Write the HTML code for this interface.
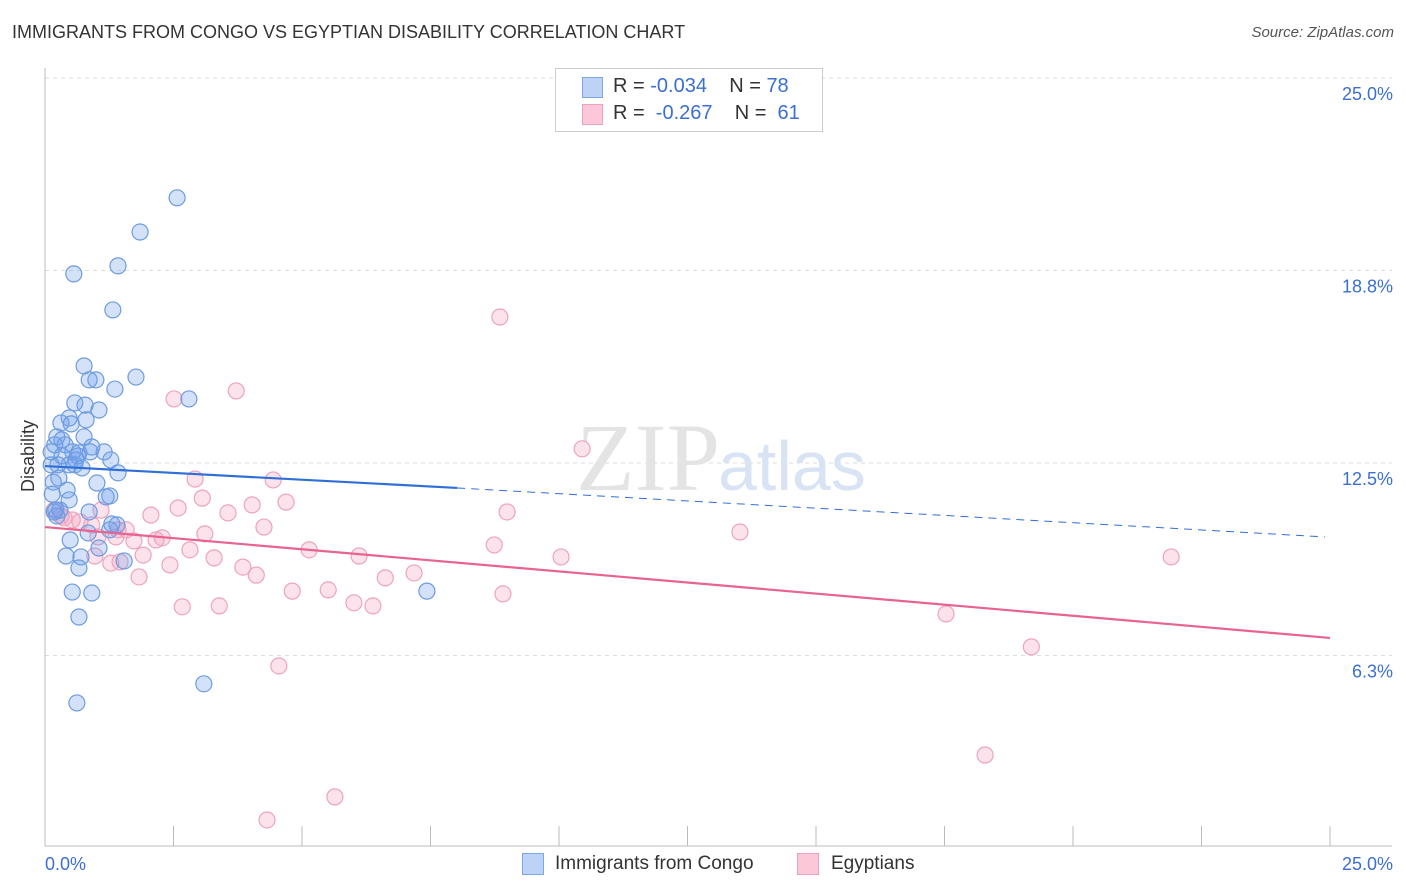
<!DOCTYPE html>
<html><head><meta charset="utf-8"><style>
body{margin:0;background:#fff;font-family:"Liberation Sans",sans-serif;}
#wrap{position:relative;width:1406px;height:892px;overflow:hidden}
.t{position:absolute;white-space:nowrap}
</style></head><body><div id="wrap">
<div class="t" style="left:12px;top:22px;font-size:18px;color:#333">IMMIGRANTS FROM CONGO VS EGYPTIAN DISABILITY CORRELATION CHART</div>
<div class="t" style="right:12px;top:24px;font-size:15px;color:#555;font-style:italic">Source: ZipAtlas.com</div>
<svg id="svg" width="1406" height="892" style="position:absolute;left:0;top:0"></svg>
</div>
<script>
const blueX=[2.57,1.85,1.42,0.56,1.32,0.76,1.77,0.86,0.99,1.36,2.80,0.58,0.78,1.05,0.47,0.31,0.80,0.51,0.23,0.33,0.76,0.19,0.39,0.91,0.12,0.54,0.66,0.88,1.15,0.33,0.64,0.60,0.12,0.25,0.47,0.58,1.28,0.72,1.42,0.27,0.16,1.01,0.43,1.26,1.19,0.47,0.14,0.21,0.23,0.86,1.40,0.84,0.49,1.26,1.05,0.41,0.70,1.54,0.66,0.53,0.91,0.66,7.43,3.09,0.62,0.18,0.29,1.30];
const blueY=[21.11,20.00,18.90,18.64,17.47,15.65,15.29,15.20,15.20,14.90,14.58,14.45,14.38,14.22,13.96,13.80,13.90,13.77,13.35,13.25,13.35,13.09,13.09,13.02,12.86,12.86,12.83,12.86,12.86,12.73,12.73,12.60,12.44,12.44,12.44,12.44,12.60,12.34,12.18,12.01,11.88,11.85,11.62,11.43,11.40,11.30,11.49,10.97,10.78,10.91,10.49,10.23,10.00,10.33,9.74,9.48,9.45,9.32,9.09,8.31,8.28,7.50,8.34,5.33,4.71,10.91,10.97,10.52];
const pinkX=[8.85,3.72,2.51,10.45,2.92,4.44,3.06,4.69,4.03,8.99,2.06,2.59,3.56,0.31,1.09,0.53,0.91,1.42,1.58,4.26,3.11,2.28,1.03,1.73,2.16,1.38,13.52,5.14,2.82,8.74,6.11,3.29,1.91,10.04,21.91,0.97,3.85,2.43,1.28,4.11,7.18,6.62,1.83,4.81,5.51,8.91,2.67,3.39,6.01,6.38,17.53,19.19,4.55,18.29,5.64,4.32,0.18,0.37,0.68,1.46];
const pinkY=[17.24,14.84,14.58,12.96,11.98,11.95,11.36,11.23,11.14,10.91,10.81,11.04,10.88,10.78,10.97,10.65,10.49,10.33,10.33,10.42,10.20,10.07,10.10,9.97,10.00,10.10,10.26,9.68,9.68,9.84,9.48,9.42,9.51,9.45,9.45,9.48,9.12,9.19,9.25,8.86,8.93,8.77,8.80,8.34,8.38,8.25,7.83,7.86,7.96,7.86,7.60,6.53,5.91,3.02,1.66,0.91,10.97,10.72,10.59,9.29];
const blueTrend=[12.40,11.69,8.02,10.10,24.9];
const pinkTrend=[10.42,6.82];
const yTicks=[25.0,18.8,12.5,6.3];
const yTickVals=[25,18.75,12.5,6.25];
const xTickVals=[0,2.5,5,7.5,10,12.5,15,17.5,20,22.5,25];

const X=v=>45+v/25*1285, Y=v=>848-v/25*770;
const svg=document.getElementById('svg');const NS='http://www.w3.org/2000/svg';
function mk(tag,at,name){const e=document.createElementNS(NS,tag);for(const k in at)e.setAttribute(k,at[k]);


svg.appendChild(e);return e;}
yTickVals.forEach((v,i)=>{mk('line',{x1:45,x2:1392,y1:Y(v),y2:Y(v),stroke:'#ddd','stroke-dasharray':'4,4'},'gridline');
const t=mk('text',{x:1393,y:Y(v)+22,'text-anchor':'end','font-size':18,fill:'#3b6fd0','font-family':'Liberation Sans'},'y-tick-label');t.textContent=yTicks[i].toFixed(1)+'%';});
mk('line',{x1:45,x2:45,y1:68,y2:846,stroke:'#bbb'},'y-axis');
mk('line',{x1:45,x2:1392,y1:846,y2:846,stroke:'#bbb'},'x-axis');
xTickVals.forEach(v=>mk('line',{x1:X(v),x2:X(v),y1:826,y2:846,stroke:'#bbb'},'x-tick'));
let t=mk('text',{x:45,y:870,'font-size':18,fill:'#3b6fd0'},'x-min-label');t.textContent='0.0%';
t=mk('text',{x:1393,y:870,'font-size':18,fill:'#3b6fd0','text-anchor':'end'},'x-max-label');t.textContent='25.0%';
t=mk('text',{x:34,y:456,'font-size':18,fill:'#333','text-anchor':'middle',transform:'rotate(-90 34 456)'},'y-axis-title');t.textContent='Disability';
t=mk('text',{x:720,y:490,'font-size':96,fill:'#e4e4e4','text-anchor':'end','font-family':'Liberation Serif'},'watermark-zip');t.textContent='ZIP';
t=mk('text',{x:718,y:490,'font-size':70,fill:'#d8e4f4'},'watermark-atlas');t.textContent='atlas';
pinkX.forEach((x,i)=>mk('circle',{cx:X(x),cy:Y(pinkY[i]),r:8,fill:'rgba(244,160,190,0.3)',stroke:'#eda3bd','stroke-width':1.2},'pink-point'));
blueX.forEach((x,i)=>mk('circle',{cx:X(x),cy:Y(blueY[i]),r:8,fill:'rgba(110,160,235,0.3)',stroke:'#6e9be0','stroke-width':1.2},'blue-point'));
mk('line',{x1:X(0),y1:Y(blueTrend[0]),x2:X(blueTrend[2]),y2:Y(blueTrend[1]),stroke:'#2f6fd6','stroke-width':2.2},'blue-trend-solid');
mk('line',{x1:X(blueTrend[2]),y1:Y(blueTrend[1]),x2:X(blueTrend[4]),y2:Y(blueTrend[3]),stroke:'#2f6fd6','stroke-width':1,'stroke-dasharray':'8,6'},'blue-trend-dashed');
mk('line',{x1:X(0),y1:Y(pinkTrend[0]),x2:X(25),y2:Y(pinkTrend[1]),stroke:'#e8638f','stroke-width':2.2},'pink-trend');
</script>
<div class="t" style="left:555px;top:68px;width:266px;height:62px;border:1px solid #ccc;background:#fff">
<div class="t" style="left:26px;top:8px;width:19px;height:19px;background:#bcd3f5;border:1px solid #7ea6e6"></div>
<div class="t" style="left:57px;top:6px;font-size:20px;color:#333">R = <span style="color:#3b6fd0">-0.034</span>&nbsp;&nbsp;&nbsp; N = <span style="color:#3b6fd0">78</span></div>
<div class="t" style="left:26px;top:35px;width:19px;height:19px;background:#fcc7d6;border:1px solid #eda3bd"></div>
<div class="t" style="left:57px;top:33px;font-size:20px;color:#333">R = &nbsp;<span style="color:#3b6fd0">-0.267</span>&nbsp;&nbsp;&nbsp; N = &nbsp;<span style="color:#3b6fd0">61</span></div>
</div>
<div class="t" style="left:522px;top:853px;width:20px;height:20px;background:#bcd3f5;border:1px solid #7ea6e6"></div>
<div class="t" style="left:555px;top:853px;font-size:19px;color:#333">Immigrants from Congo</div>
<div class="t" style="left:797px;top:853px;width:20px;height:20px;background:#fcc7d6;border:1px solid #eda3bd"></div>
<div class="t" style="left:831px;top:853px;font-size:19px;color:#333">Egyptians</div>
</body></html>
